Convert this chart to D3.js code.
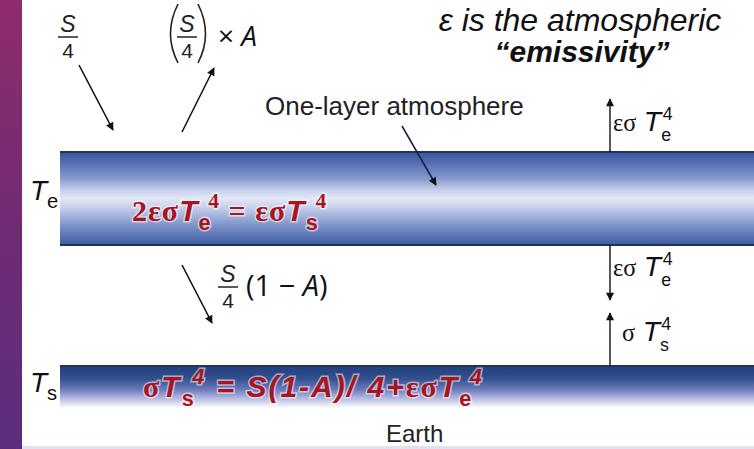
<!DOCTYPE html>
<html>
<head>
<meta charset="utf-8">
<script src="https://cdn.jsdelivr.net/npm/d3@7"></script>
<style>
  body { margin: 0; background: #fff; }
  svg { display: block; }
</style>
</head>
<body>
<div id="viz"></div>
<script>
// layers of the one-layer model, top to bottom
const layerNames = ["atmosphere", "earth"];
const layerCaptions = ["One-layer atmosphere", "Earth"];
const layerTemps = ["T_e", "T_s"];
const balanceEquations = ["2εσT_e^4 = εσT_s^4", "σT_s^4 = S(1-A)/ 4+εσT_e^4"];

// longwave fluxes drawn on the right
const longwaveLabels = ["εσ T_e^4", "εσ T_e^4", "σ T_s^4"];
const longwaveDirs = ["up", "down", "up"];

// solar fluxes drawn on the left: S/4 times a factor
const solarFactors = ["", "× A", "(1 − A)"];
const solarDirs = ["down", "up", "down"];

const noteLines = ["ε is the atmospheric", "“emissivity”"];

let w = 754;
let h = 449;
let sans = "Liberation Sans, Arial, sans-serif";
let serif = "Liberation Serif, Times New Roman, serif";
let fracFont = "Open Sans, Liberation Sans, sans-serif";

const svg = d3.select("#viz")
  .append("svg")
  .attr("width", w)
  .attr("height", h);

const defs = svg.append("defs");

// vertical levels of the diagram
const levelY = d3.scaleOrdinal()
  .domain(["atmTop", "atmBottom", "earthTop"])
  .range([152, 245, 366]);

const bandLeft = 60;
const fluxX = 610;

// purple slide strip on the left
let strip = defs.append("linearGradient").attr("id", "strip")
  .attr("x1", 0).attr("y1", 0).attr("x2", 0).attr("y2", 1);
strip.append("stop").attr("offset", 0).attr("stop-color", "#8f2c6b");
strip.append("stop").attr("offset", 0.5).attr("stop-color", "#712b75");
strip.append("stop").attr("offset", 1).attr("stop-color", "#5a2d7c");

svg.append("rect")
  .attr("x", 0).attr("y", 0)
  .attr("width", 22).attr("height", h)
  .attr("fill", "url(#strip)");

svg.append("rect")
  .attr("x", 22).attr("y", h - 3)
  .attr("width", w - 22).attr("height", 3)
  .attr("fill", "#e3e0f3");

// band gradients
let atmGrad = defs.append("linearGradient").attr("id", "atmGrad")
  .attr("x1", 0).attr("y1", 0).attr("x2", 0).attr("y2", 1);
[[0, "#3a5698"], [0.12, "#5470b2"], [0.28, "#8599cd"], [0.42, "#c9d2ec"],
 [0.5, "#e4e8f6"], [0.6, "#c5cfea"], [0.75, "#8c9fd0"], [0.9, "#5a75b6"], [1, "#3f5b9c"]]
  .forEach(s => atmGrad.append("stop").attr("offset", s[0]).attr("stop-color", s[1]));

let earthGrad = defs.append("linearGradient").attr("id", "earthGrad")
  .attr("x1", 0).attr("y1", 0).attr("x2", 0).attr("y2", 1);
[[0, "#213f7c"], [0.3, "#33508f"], [0.55, "#6a78bb"], [0.78, "#b7bde2"], [1, "#ffffff"]]
  .forEach(s => earthGrad.append("stop").attr("offset", s[0]).attr("stop-color", s[1]));

let bandGroup = svg.append("g");

bandGroup.append("rect")
  .attr("x", bandLeft).attr("y", levelY("atmTop"))
  .attr("width", w - bandLeft)
  .attr("height", levelY("atmBottom") - levelY("atmTop"))
  .attr("fill", "url(#atmGrad)");

bandGroup.append("rect")
  .attr("x", bandLeft).attr("y", levelY("earthTop"))
  .attr("width", w - bandLeft)
  .attr("height", 42)
  .attr("fill", "url(#earthGrad)");

// dark edges of the bands
["atmTop", "atmBottom", "earthTop"].forEach(k => {
  bandGroup.append("line")
    .attr("x1", bandLeft).attr("x2", w)
    .attr("y1", levelY(k)).attr("y2", levelY(k))
    .attr("stroke", "#1d3363")
    .attr("stroke-width", 2);
});

// arrow head
defs.append("marker")
  .attr("id", "head")
  .attr("viewBox", "0 0 10 10")
  .attr("refX", 9).attr("refY", 5)
  .attr("markerUnits", "userSpaceOnUse")
  .attr("markerWidth", 12).attr("markerHeight", 8)
  .attr("orient", "auto")
  .append("path")
  .attr("d", "M0,0 L10,5 L0,10 z")
  .attr("fill", "#111");

// split a string like "εσT_e^4" into glyph tokens
function tokens(str) {
  let out = [];
  for (let i = 0; i < str.length; i++) {
    let c = str[i], pos = "base";
    if (c === "_" || c === "^") {
      pos = c === "_" ? "sub" : "sup";
      c = str[++i];
    }
    out.push({ c: c, pos: pos, greek: /[α-ω]/.test(c), latin: /[A-Za-z]/.test(c) });
  }
  return out;
}

// write a formula with tspans, greek in serif, latin italic
function mathText(g, str, o) {
  let t = g.append("text")
    .attr("x", o.x).attr("y", o.y)
    .attr("fill", o.fill || "#111")
    .attr("font-weight", o.weight || "normal")
    .attr("letter-spacing", o.spacing || 0)
    .style("white-space", "pre");
  if (o.halo) {
    t.attr("stroke", "#fff").attr("stroke-width", 3)
      .attr("stroke-opacity", 0.55).attr("paint-order", "stroke");
  }
  let subShift = o.subShift || 0.3, supShift = o.supShift || 0.42, smallScale = o.smallScale || 0.72;
  let off = 0, prev = "base", subLen = 0;
  tokens(str).forEach(tok => {
    let small = tok.pos !== "base";
    let target = tok.pos === "sub" ? o.size * subShift : tok.pos === "sup" ? -o.size * supShift : 0;
    let fam = tok.greek ? serif : (tok.latin ? (o.latinFont || sans) : o.baseFont);
    let style = tok.latin && !small ? "italic" : (tok.latin || tok.greek ? "normal" : o.baseStyle);
    let size = small ? o.size * smallScale
      : o.size * (tok.greek ? o.greekScale || 1 : tok.latin ? o.latinScale || 1 : 1);
    let ts = t.append("tspan")
      .text(tok.c)
      .attr("dy", target - off)
      .attr("font-family", fam)
      .attr("font-style", style)
      .attr("font-size", size);
    if (tok.pos === "sup" && prev === "sub") ts.attr("dx", -o.stack * subLen);
    if (tok.pos === "sub") subLen = ts.node().getComputedTextLength();
    off = target;
    prev = tok.pos;
  });
  return t;
}

// layer captions
let textGroup = svg.append("g");

textGroup.append("text")
  .attr("x", 265).attr("y", 115)
  .attr("font-family", sans).attr("font-size", 26)
  .attr("fill", "#222")
  .text(layerCaptions[0]);

textGroup.append("line")
  .attr("x1", 402).attr("y1", 126)
  .attr("x2", 436).attr("y2", 185)
  .attr("stroke", "#1a2440").attr("stroke-width", 1.6)
  .attr("marker-end", "url(#head)");

textGroup.append("text")
  .attr("x", 386).attr("y", 442)
  .attr("font-family", sans).attr("font-size", 24)
  .attr("fill", "#222")
  .text(layerCaptions[1]);

// temperatures to the left of each band
let tempY = d3.scaleOrdinal().domain(layerNames).range([200, 392]);
layerNames.forEach((n, i) => {
  mathText(textGroup, layerTemps[i], {
    x: 30, y: tempY(n), size: 28, baseFont: sans, baseStyle: "normal", stack: 0
  });
});

// balance equations inside the bands
let eqY = d3.scaleOrdinal().domain(layerNames).range([221, 397]);
let eqX = d3.scaleOrdinal().domain(layerNames).range([132, 143]);
layerNames.forEach((n, i) => {
  mathText(textGroup, balanceEquations[i], {
    x: eqX(n), y: eqY(n), size: 30, spacing: i === 0 ? 1 : 2,
    baseFont: i === 0 ? serif : sans, baseStyle: i === 0 ? "normal" : "italic",
    weight: "bold", fill: "#a8141f", halo: true, stack: 0.25, greekScale: 1.0
  });
});

// longwave fluxes on the right
let lwStart = ["atmTop", "atmBottom", "earthTop"];
let lwLabelY = [131, 276, 341];
let lwLabelX = [613, 613, 622];
let fluxGroup = svg.append("g");
longwaveLabels.forEach((lab, i) => {
  let y0 = levelY(lwStart[i]);
  let y1 = longwaveDirs[i] === "up" ? y0 - 53 : y0 + 55;
  fluxGroup.append("line")
    .attr("x1", fluxX).attr("y1", y0)
    .attr("x2", fluxX).attr("y2", y1)
    .attr("stroke", "#111").attr("stroke-width", 1.4)
    .attr("marker-end", "url(#head)");
  mathText(fluxGroup, lab, {
    x: lwLabelX[i], y: lwLabelY[i], size: 27, baseFont: sans, baseStyle: "normal",
    stack: 0.85, greekScale: 0.9, latinScale: 1.05,
    subShift: 0.37, supShift: 0.4, smallScale: 0.66
  });
});

// solar fluxes on the left: fraction S/4, optional factor, arrow
let solarX = [68, 187, 228];
let solarY = [37, 37, 287];
let solarArrows = [[79, 65, 113, 130], [182, 132, 214, 68], [182, 265, 212, 323]];
let solarGroup = svg.append("g");
solarFactors.forEach((f, i) => {
  let cx = solarX[i], by = solarY[i];
  solarGroup.append("text")
    .attr("x", cx).attr("y", by - 5)
    .attr("text-anchor", "middle")
    .attr("font-family", sans).attr("font-style", "italic")
    .attr("font-size", 23).attr("fill", "#222")
    .text("S");
  solarGroup.append("line")
    .attr("x1", cx - 10).attr("x2", cx + 10)
    .attr("y1", by).attr("y2", by)
    .attr("stroke", "#222").attr("stroke-width", 1.5);
  solarGroup.append("text")
    .attr("x", cx).attr("y", by + 21)
    .attr("text-anchor", "middle")
    .attr("font-family", sans)
    .attr("font-size", 21).attr("fill", "#222")
    .text("4");
  if (f.startsWith("×")) {
    // brackets round the fraction, then the factor
    solarGroup.append("path")
      .attr("d", `M${cx - 9},${by - 33} Q${cx - 24},${by - 3} ${cx - 9},${by + 26}`)
      .attr("fill", "none").attr("stroke", "#222").attr("stroke-width", 1.6);
    solarGroup.append("path")
      .attr("d", `M${cx + 11},${by - 33} Q${cx + 26},${by - 3} ${cx + 11},${by + 26}`)
      .attr("fill", "none").attr("stroke", "#222").attr("stroke-width", 1.6);
    mathText(solarGroup, f, { x: cx + 31, y: by + 9, size: 28, baseFont: fracFont, baseStyle: "normal", stack: 0 })
      .selectAll("tspan").attr("font-family", fracFont);
  } else if (f) {
    mathText(solarGroup, f, { x: cx + 18, y: by + 9, size: 29, baseFont: fracFont, baseStyle: "normal", stack: 0 })
      .selectAll("tspan").attr("font-family", fracFont);
  }
  let a = solarArrows[i];
  solarGroup.append("line")
    .attr("x1", a[0]).attr("y1", a[1])
    .attr("x2", a[2]).attr("y2", a[3])
    .attr("stroke", "#111").attr("stroke-width", 1.6)
    .attr("marker-end", "url(#head)");
});

// emissivity note
textGroup.append("text")
  .attr("x", 580).attr("y", 31)
  .attr("text-anchor", "middle")
  .attr("font-family", sans).attr("font-style", "italic")
  .attr("font-size", 32).attr("fill", "#111")
  .text(noteLines[0]);

textGroup.append("text")
  .attr("x", 582).attr("y", 62)
  .attr("text-anchor", "middle")
  .attr("font-family", sans).attr("font-style", "italic").attr("font-weight", "bold")
  .attr("font-size", 30).attr("fill", "#111")
  .text(noteLines[1]);
</script>
</body>
</html>
